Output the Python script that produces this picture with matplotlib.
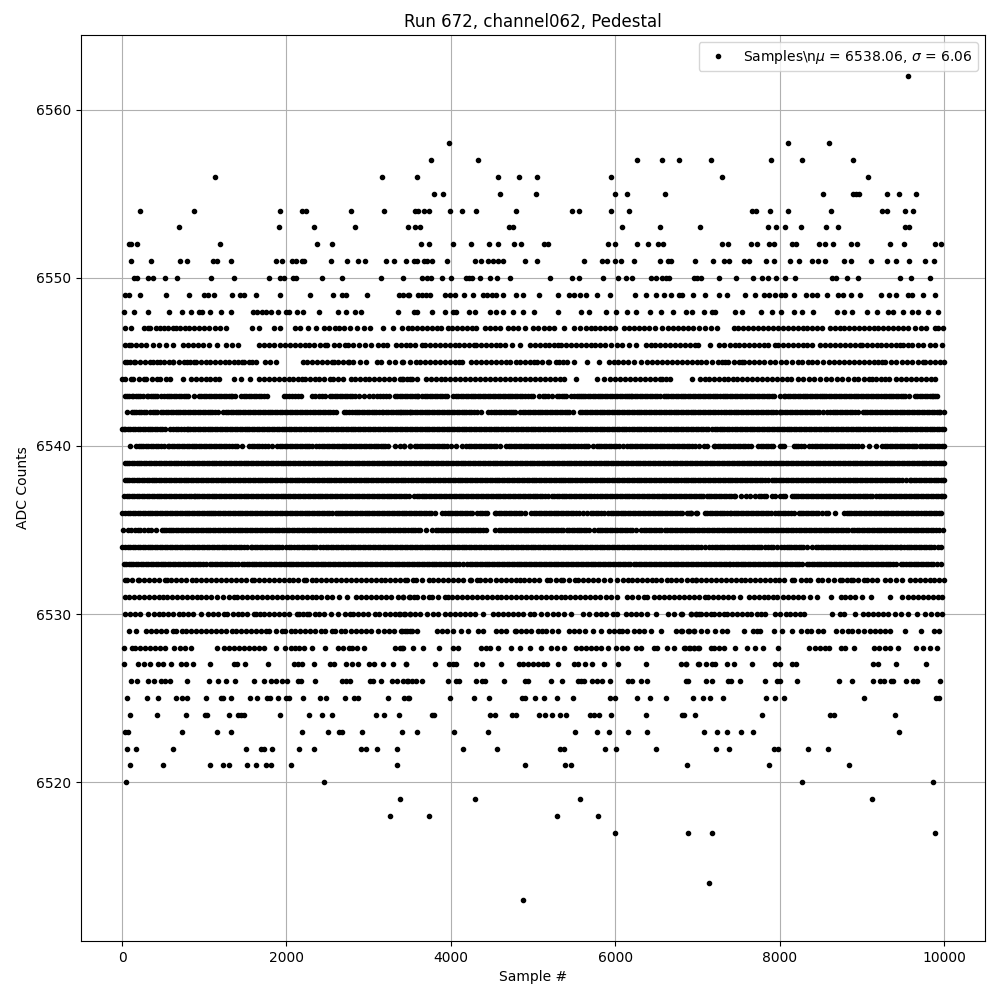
import matplotlib
matplotlib.use("Agg")
import matplotlib.pyplot as plt

# Sample numbers per ADC level. Overlapping dots in the
# dense rows cannot be told apart, so those rows are read at about half a dot width.
adc_6562 = [9564]
adc_6558 = [3980, 8101, 8598]
adc_6557 = [3762, 4331, 6271, 6574, 6780, 7168, 7895, 8271, 8889]
adc_6556 = [1132, 3168, 3592, 4574, 4828, 5046, 5955, 7301, 9071]
adc_6555 = [3798, 3907, 4598, 5034, 5992, 6149, 6610, 8525, 8889, 8925, 8962, 9313, 9459, 9665]
adc_6554 = [223, 877, 1919, 2186, 2234, 2780, 3192, 3564, 3604, 3673, 3738, 3992, 4137, 4307, 4792, 5471, 5555, 5955, 6174, 7665, 7713, 7887, 8101, 8622, 9252, 9313, 9531, 9628]
adc_6553 = [695, 1907, 2331, 2840, 3483, 3564, 3628, 4707, 4756, 6077, 6549, 7035, 7859, 7956, 8065, 8259, 8570, 8707, 9531, 9580]
adc_6552 = [89, 109, 178, 1192, 2368, 2550, 3641, 3738, 4028, 4247, 4465, 4574, 4768, 4853, 5131, 5180, 5907, 5992, 6271, 6404, 6525, 6586, 7301, 7374, 7653, 7725, 7875, 7931, 8150, 8198, 8477, 8554, 8647, 8865, 8937, 9350, 9519, 9895, 9968]
adc_6551 = [113, 356, 707, 792, 1107, 1152, 1325, 1871, 1944, 2065, 2113, 2186, 2210, 2537, 2731, 2865, 2950, 3216, 3313, 3459, 3556, 3584, 3673, 3713, 3774, 3956, 4295, 4368, 4453, 4513, 4574, 4634, 4905, 5046, 5616, 5834, 5895, 5992, 6065, 6234, 6549, 6646, 6683, 6974, 7192, 7325, 7386, 7564, 7624, 7834, 7935, 8129, 8234, 8392, 8465, 8550, 8780, 8865, 9107, 9313, 9422, 9580, 9774, 9883]
adc_6550 = [150, 182, 320, 380, 526, 671, 1083, 1362, 1786, 1919, 1968, 2077, 2113, 2428, 2671, 3156, 3422, 3645, 3713, 3758, 3887, 4004, 4182, 4222, 4262, 4352, 4473, 4562, 4719, 5204, 5471, 5555, 5855, 6040, 6137, 6210, 6440, 6501, 6574, 6620, 6660, 6957, 6998, 7039, 7265, 7471, 7677, 7786, 7859, 7956, 8069, 8190, 8634, 8683, 8816, 8950, 9471, 9604, 9835]
adc_6549 = [37, 89, 223, 538, 816, 998, 1047, 1119, 1338, 1435, 1483, 1628, 1919, 2283, 2562, 2671, 2719, 2986, 3374, 3422, 3483, 3495, 3604, 3650, 3700, 3746, 3927, 3985, 4049, 4162, 4271, 4392, 4440, 4500, 4555, 4630, 4796, 4877, 5067, 5301, 5442, 5503, 5568, 5640, 5774, 5931, 6246, 6380, 6501, 6598, 6683, 6775, 6816, 6949, 7099, 7269, 7362, 7576, 7701, 7814, 7870, 7940, 8020, 8070, 8170, 8319, 8400, 8461, 8574, 8715, 8776, 8865, 8978, 9240, 9337, 9422, 9563, 9616, 9745, 9895]
adc_6548 = [29, 150, 320, 574, 732, 841, 938, 974, 1071, 1204, 1325, 1592, 1641, 1701, 1750, 1810, 1895, 1992, 2030, 2125, 2198, 2392, 2622, 2719, 2828, 2913, 3362, 3552, 3584, 3766, 3935, 4028, 4069, 4218, 4295, 4477, 4554, 4634, 4756, 4877, 5010, 5301, 5584, 5685, 5887, 6008, 6149, 6258, 6420, 6553, 6707, 6856, 6937, 7079, 7180, 7220, 7455, 7544, 7774, 7907, 8020, 8170, 8271, 8412, 8695, 8784, 8877, 9059, 9180, 9321, 9382, 9507, 9616, 9685, 9810, 9927]
adc_6547 = [41, 113, 271, 310, 343, 412, 460, 510, 560, 614, 655, 700, 760, 820, 880, 940, 1000, 1060, 1130, 1190, 1260, 1584, 1665, 1846, 1927, 2109, 2170, 2267, 2356, 2453, 2513, 2594, 2640, 2700, 2776, 2857, 2938, 3020, 3180, 3301, 3402, 3483, 3530, 3590, 3650, 3710, 3770, 3830, 3875, 3960, 4020, 4080, 4140, 4200, 4260, 4310, 4412, 4480, 4533, 4594, 4695, 4756, 4815, 4900, 5000, 5060, 5130, 5200, 5260, 5382, 5500, 5576, 5644, 5700, 5760, 5820, 5880, 5940, 6000, 6109, 6170, 6230, 6290, 6350, 6410, 6490, 6574, 6640, 6700, 6760, 6830, 6890, 6950, 7018, 7090, 7170, 7241, 7443, 7500, 7560, 7620, 7680, 7740, 7800, 7860, 7920, 7980, 8040, 8100, 8160, 8220, 8280, 8340, 8400, 8460, 8513, 8614, 8670, 8730, 8790, 8850, 8910, 8970, 9030, 9090, 9150, 9200, 9260, 9320, 9380, 9440, 9500, 9560, 9650, 9720, 9786, 9887, 9927, 9988]
adc_6546 = [40, 80, 110, 170, 230, 287, 372, 450, 533, 622, 744, 800, 860, 920, 990, 1059, 1156, 1269, 1340, 1414, 1665, 1730, 1790, 1846, 1920, 1980, 2040, 2100, 2160, 2220, 2280, 2340, 2410, 2472, 2493, 2574, 2640, 2715, 2744, 2810, 2880, 2950, 3026, 3119, 3170, 3228, 3333, 3390, 3450, 3503, 3560, 3645, 3685, 3745, 3805, 3865, 3925, 3985, 4045, 4105, 4165, 4225, 4279, 4303, 4365, 4425, 4490, 4554, 4594, 4655, 4748, 4840, 4958, 5020, 5080, 5140, 5200, 5255, 5309, 5341, 5400, 5460, 5520, 5580, 5640, 5700, 5760, 5820, 5880, 5950, 6020, 6089, 6170, 6250, 6372, 6430, 6490, 6550, 6610, 6670, 6730, 6790, 6850, 6910, 6970, 7010, 7156, 7269, 7330, 7400, 7463, 7503, 7565, 7625, 7685, 7745, 7805, 7865, 7948, 7980, 8040, 8100, 8160, 8220, 8280, 8340, 8392, 8493, 8555, 8615, 8675, 8735, 8795, 8855, 8915, 8978, 8998, 9060, 9120, 9180, 9240, 9300, 9360, 9420, 9463, 9503, 9564, 9616, 9680, 9750, 9826, 9887, 9976]
adc_6545 = [30, 60, 100, 142, 158, 215, 280, 344, 372, 420, 461, 513, 565, 614, 622, 690, 756, 788, 830, 877, 897, 955, 1015, 1075, 1135, 1195, 1250, 1301, 1362, 1410, 1463, 1483, 1544, 1584, 1632, 1733, 1800, 1875, 2198, 2255, 2315, 2375, 2435, 2495, 2554, 2574, 2630, 2690, 2743, 2756, 2815, 2890, 2970, 3099, 3147, 3245, 3320, 3402, 3422, 3503, 3572, 3630, 3690, 3750, 3810, 3870, 3930, 3990, 4050, 4100, 4142, 4251, 4310, 4370, 4430, 4490, 4550, 4610, 4675, 4719, 4788, 4836, 4900, 4960, 5018, 5046, 5115, 5188, 5200, 5281, 5313, 5365, 5414, 5495, 5652, 5798, 5919, 5980, 6040, 6100, 6160, 6230, 6311, 6392, 6452, 6510, 6570, 6630, 6690, 6750, 6810, 6870, 6930, 6990, 7050, 7110, 7180, 7253, 7300, 7342, 7374, 7440, 7510, 7544, 7572, 7630, 7690, 7750, 7810, 7880, 7939, 8016, 8080, 8150, 8220, 8279, 8343, 8392, 8450, 8530, 8602, 8663, 8725, 8785, 8845, 8905, 8965, 9025, 9085, 9145, 9200, 9248, 9281, 9362, 9422, 9495, 9555, 9615, 9680, 9745, 9766, 9830, 9890, 9950, 10000]
adc_6544 = [0, 40, 109, 130, 200, 271, 291, 360, 425, 465, 530, 586, 744, 837, 905, 958, 1015, 1075, 1130, 1180, 1362, 1443, 1552, 1665, 1725, 1785, 1845, 1905, 1965, 2025, 2085, 2140, 2190, 2222, 2282, 2342, 2402, 2462, 2525, 2566, 2625, 2685, 2784, 2828, 2890, 2950, 3010, 3067, 3125, 3185, 3245, 3305, 3382, 3422, 3503, 3402, 3470, 3530, 3584, 3697, 3755, 3815, 3875, 3935, 3995, 4055, 4115, 4175, 4235, 4295, 4352, 4420, 4480, 4540, 4600, 4660, 4723, 4784, 4845, 4905, 4965, 5025, 5085, 5145, 5205, 5265, 5325, 5382, 5523, 5774, 5866, 5935, 6000, 6060, 6120, 6180, 6240, 6300, 6360, 6420, 6480, 6545, 6565, 6620, 6662, 6929, 7030, 7099, 7140, 7200, 7260, 7320, 7375, 7430, 7483, 7545, 7605, 7665, 7725, 7785, 7845, 7905, 7965, 8025, 8085, 8141, 8222, 8291, 8360, 8424, 8493, 8560, 8630, 8700, 8764, 8836, 8900, 8960, 9030, 9085, 9131, 9168, 9230, 9285, 9329, 9422, 9480, 9540, 9600, 9660, 9720, 9780, 9840, 9887]
adc_6543 = [35, 60, 117, 138, 195, 250, 303, 320, 380, 430, 473, 513, 574, 630, 690, 750, 808, 869, 938, 995, 1055, 1115, 1175, 1235, 1295, 1342, 1374, 1451, 1510, 1570, 1630, 1690, 1766, 1968, 2030, 2100, 2178, 2311, 2390, 2473, 2533, 2590, 2650, 2710, 2770, 2830, 2877, 2938, 3000, 3058, 3099, 3170, 3252, 3321, 3380, 3440, 3503, 3560, 3584, 3604, 3650, 3685, 3713, 3775, 3835, 3895, 3955, 4028, 4061, 4120, 4180, 4240, 4300, 4360, 4420, 4480, 4540, 4600, 4660, 4720, 4780, 4840, 4900, 4978, 4998, 5079, 5119, 5180, 5232, 5289, 5350, 5402, 5463, 5530, 5590, 5632, 5665, 5725, 5785, 5845, 5905, 5965, 6025, 6085, 6140, 6190, 6210, 6270, 6330, 6390, 6450, 6510, 6594, 6614, 6675, 6735, 6795, 6855, 6915, 6975, 7035, 7095, 7155, 7215, 7275, 7342, 7362, 7425, 7485, 7545, 7605, 7665, 7725, 7785, 7845, 7907, 7928, 8000, 8049, 8069, 8130, 8190, 8250, 8310, 8370, 8430, 8490, 8521, 8541, 8600, 8660, 8720, 8780, 8840, 8900, 8960, 9020, 9080, 9140, 9200, 9265, 9329, 9354, 9415, 9475, 9530, 9572, 9644, 9705, 9765, 9825, 9870, 9919]
adc_6543_more = [90, 165, 222, 350, 405, 545, 600, 660, 720, 780, 965, 1025, 1085, 1145, 1205, 1265, 1320, 1480, 1540, 1600, 1660, 1725, 2000, 2065, 2140, 2350, 2430, 2560, 2620, 2680, 2740, 2800, 3135, 3210, 3350, 3410, 3470, 3530, 3745, 3805, 3865, 3925, 4090, 4150, 4210, 4270, 4330, 4390, 4450, 4510, 4570, 4630, 4690, 4750, 4810, 4870, 4940, 5150, 5320, 5380, 5495, 5560, 5610, 5695, 5755, 5815, 5875, 5935, 5995, 6055, 6115, 6165, 6240, 6300, 6360, 6420, 6480, 6550, 6645, 6705, 6765, 6825, 6885, 6945, 7005, 7065, 7125, 7185, 7245, 7310, 7395, 7455, 7515, 7575, 7635, 7695, 7755, 7815, 7875, 8100, 8160, 8220, 8280, 8340, 8400, 8460, 8570, 8630, 8690, 8750, 8810, 8870, 8930, 8990, 9050, 9110, 9170, 9235, 9300, 9385, 9445, 9500, 9675, 9735, 9795, 9850, 9895]
adc_6542 = [57, 117, 175, 235, 290, 344, 372, 425, 473, 501, 560, 620, 680, 740, 800, 860, 920, 980, 1040, 1100, 1172, 1233, 1290, 1350, 1410, 1470, 1530, 1590, 1650, 1710, 1770, 1830, 1890, 1950, 2010, 2070, 2130, 2190, 2250, 2323, 2352, 2410, 2470, 2530, 2606, 2695, 2760, 2836, 2857, 2915, 2975, 3035, 3095, 3160, 3180, 3240, 3300, 3360, 3420, 3503, 3382, 3443, 3471, 3530, 3590, 3650, 3710, 3770, 3830, 3890, 3950, 4010, 4070, 4130, 4190, 4250, 4323, 4372, 4453, 4493, 4555, 4615, 4675, 4735, 4784, 4844, 4905, 4965, 5025, 5085, 5145, 5205, 5265, 5325, 5385, 5440, 5483, 5572, 5630, 5690, 5750, 5810, 5870, 5930, 5990, 6050, 6110, 6170, 6230, 6290, 6350, 6410, 6470, 6530, 6590, 6650, 6710, 6770, 6830, 6889, 6917, 6975, 7035, 7095, 7155, 7215, 7293, 7321, 7380, 7440, 7500, 7560, 7620, 7680, 7740, 7800, 7860, 7920, 8000, 8008, 8065, 8125, 8185, 8245, 8305, 8365, 8425, 8485, 8574, 8614, 8675, 8735, 8795, 8855, 8917, 8958, 9010, 9070, 9130, 9190, 9250, 9310, 9370, 9430, 9490, 9550, 9610, 9670, 9730, 9790, 9850, 9910, 9955, 9996]
adc_6542_more = [145, 205, 262, 400, 530, 590, 650, 710, 770, 830, 890, 950, 1010, 1070, 1135, 1260, 1320, 1380, 1440, 1500, 1560, 1620, 1680, 1740, 1800, 1860, 1920, 1980, 2040, 2100, 2160, 2220, 2285, 2380, 2440, 2500, 2570, 2730, 2800, 2885, 2945, 3005, 3065, 3125, 3210, 3270, 3330, 3390, 3500, 3560, 3620, 3680, 3740, 3800, 3860, 3920, 3980, 4040, 4100, 4160, 4220, 4285, 4525, 4585, 4645, 4705, 4760, 4875, 4935, 4995, 5055, 5115, 5175, 5235, 5295, 5355, 5415, 5600, 5660, 5720, 5780, 5840, 5900, 5960, 6020, 6080, 6140, 6200, 6260, 6320, 6380, 6440, 6500, 6560, 6620, 6680, 6740, 6800, 6860, 6945, 7005, 7065, 7125, 7185, 7255, 7350, 7410, 7470, 7530, 7590, 7650, 7710, 7770, 7830, 7890, 7960, 8035, 8095, 8155, 8215, 8275, 8335, 8395, 8455, 8530, 8645, 8705, 8765, 8825, 8885, 9040, 9100, 9160, 9220, 9280, 9340, 9400, 9460, 9520, 9580, 9640, 9700, 9760, 9820, 9880, 9935]
adc_6541 = [0, 40, 100, 160, 220, 280, 340, 400, 460, 526, 586, 650, 715, 784, 804, 860, 920, 980, 1040, 1100, 1160, 1220, 1280, 1340, 1400, 1460, 1520, 1580, 1640, 1700, 1760, 1820, 1880, 1940, 2000, 2060, 2120, 2180, 2240, 2300, 2360, 2420, 2480, 2540, 2600, 2660, 2720, 2780, 2840, 2900, 2960, 3020, 3080, 3140, 3200, 3260, 3320, 3380, 3440, 3503, 3560, 3620, 3680, 3740, 3800, 3860, 3920, 3980, 4040, 4100, 4160, 4220, 4280, 4340, 4400, 4460, 4520, 4580, 4640, 4700, 4760, 4820, 4880, 4940, 5000, 5060, 5120, 5180, 5240, 5300, 5360, 5420, 5480, 5540, 5600, 5660, 5720, 5780, 5840, 5900, 5960, 6020, 6080, 6129, 6170, 6230, 6290, 6350, 6410, 6470, 6530, 6590, 6650, 6710, 6770, 6830, 6890, 6950, 7010, 7070, 7130, 7220, 7241, 7300, 7360, 7420, 7463, 7483, 7545, 7605, 7665, 7725, 7785, 7845, 7905, 7965, 8025, 8085, 8145, 8205, 8265, 8325, 8385, 8445, 8505, 8565, 8625, 8685, 8745, 8805, 8865, 8925, 8985, 9045, 9105, 9165, 9225, 9285, 9345, 9405, 9465, 9525, 9585, 9645, 9705, 9765, 9825, 9885, 9945, 10000]
adc_6541_more = [20, 70, 130, 190, 250, 310, 370, 430, 490, 620, 680, 750, 830, 890, 950, 1010, 1070, 1130, 1190, 1250, 1310, 1370, 1430, 1490, 1550, 1610, 1670, 1730, 1790, 1850, 1910, 1970, 2030, 2090, 2150, 2210, 2270, 2330, 2390, 2450, 2510, 2570, 2630, 2690, 2750, 2810, 2870, 2930, 2990, 3050, 3110, 3170, 3230, 3290, 3350, 3410, 3470, 3530, 3590, 3650, 3710, 3770, 3830, 3890, 3950, 4010, 4070, 4130, 4190, 4250, 4310, 4370, 4430, 4490, 4550, 4610, 4670, 4730, 4790, 4850, 4910, 4970, 5030, 5090, 5150, 5210, 5270, 5330, 5390, 5450, 5510, 5570, 5630, 5690, 5750, 5810, 5870, 5930, 5990, 6050, 6105, 6200, 6260, 6320, 6380, 6440, 6500, 6560, 6620, 6680, 6740, 6800, 6860, 6920, 6980, 7040, 7100, 7175, 7270, 7330, 7390, 7515, 7575, 7635, 7695, 7755, 7815, 7875, 7935, 7995, 8055, 8115, 8175, 8235, 8295, 8355, 8415, 8475, 8535, 8595, 8655, 8715, 8775, 8835, 8895, 8955, 9015, 9075, 9135, 9195, 9255, 9315, 9375, 9435, 9495, 9555, 9615, 9675, 9735, 9795, 9855, 9915, 9975]
adc_6540 = [101, 170, 230, 290, 350, 410, 470, 554, 574, 635, 695, 755, 815, 875, 935, 995, 1055, 1115, 1180, 1208, 1270, 1340, 1402, 1459, 1544, 1610, 1670, 1740, 1826, 1887, 1950, 2010, 2070, 2130, 2190, 2250, 2310, 2400, 2432, 2490, 2550, 2610, 2670, 2730, 2790, 2850, 2910, 2970, 3030, 3090, 3150, 3200, 3241, 3320, 3382, 3434, 3503, 3434, 3500, 3564, 3592, 3650, 3710, 3770, 3830, 3890, 3950, 4057, 4137, 4190, 4250, 4310, 4370, 4430, 4490, 4550, 4594, 4675, 4735, 4795, 4855, 4915, 4975, 5035, 5095, 5155, 5215, 5275, 5335, 5395, 5455, 5515, 5584, 5616, 5670, 5725, 5774, 5830, 5890, 5950, 6010, 6097, 6149, 6210, 6270, 6330, 6390, 6450, 6510, 6570, 6630, 6690, 6750, 6810, 6870, 6930, 7018, 7079, 7119, 7200, 7220, 7280, 7340, 7400, 7460, 7520, 7580, 7657, 7737, 7800, 7860, 7920, 8000, 8060, 8170, 8230, 8300, 8364, 8400, 8460, 8520, 8580, 8640, 8700, 8760, 8820, 8880, 8950, 8998, 9083, 9172, 9248, 9310, 9370, 9430, 9490, 9550, 9610, 9664, 9705, 9765, 9825, 9885, 9945, 10000]
adc_6540_more = [200, 260, 320, 380, 440, 510, 605, 665, 725, 785, 845, 905, 965, 1025, 1085, 1145, 1240, 1305, 1370, 1575, 1640, 1705, 1780, 1920, 1980, 2040, 2100, 2160, 2220, 2280, 2355, 2460, 2520, 2580, 2640, 2700, 2760, 2820, 2880, 2940, 3000, 3060, 3120, 3175, 3620, 3680, 3740, 3800, 3860, 3920, 4000, 4220, 4280, 4340, 4400, 4460, 4520, 4705, 4765, 4825, 4885, 4945, 5005, 5065, 5125, 5185, 5245, 5305, 5365, 5425, 5485, 5550, 5640, 5800, 5860, 5920, 5980, 6050, 6180, 6240, 6300, 6360, 6420, 6480, 6540, 6600, 6660, 6720, 6780, 6840, 6900, 6975, 7250, 7310, 7370, 7430, 7490, 7550, 7620, 7770, 7830, 7890, 8030, 8200, 8265, 8430, 8490, 8550, 8610, 8670, 8730, 8790, 8850, 8915, 9280, 9340, 9400, 9460, 9520, 9580, 9640, 9735, 9795, 9855, 9915, 9975]
adc_6539 = [30, 56, 116, 176, 236, 296, 356, 416, 476, 536, 596, 656, 716, 756, 788, 848, 908, 968, 1028, 1088, 1148, 1208, 1268, 1328, 1388, 1448, 1508, 1568, 1628, 1688, 1748, 1808, 1868, 1928, 1988, 2048, 2108, 2168, 2228, 2288, 2348, 2408, 2468, 2528, 2588, 2648, 2708, 2768, 2828, 2888, 2948, 3008, 3068, 3128, 3188, 3248, 3308, 3368, 3428, 3488, 3548, 3608, 3668, 3728, 3788, 3848, 3908, 3968, 4028, 4088, 4148, 4208, 4268, 4328, 4388, 4448, 4508, 4568, 4628, 4688, 4748, 4808, 4868, 4928, 4988, 5048, 5108, 5168, 5228, 5288, 5348, 5408, 5468, 5528, 5588, 5648, 5708, 5768, 5828, 5888, 5948, 6008, 6068, 6128, 6188, 6248, 6308, 6368, 6428, 6488, 6548, 6608, 6668, 6728, 6788, 6848, 6908, 6968, 7028, 7088, 7148, 7208, 7268, 7328, 7388, 7448, 7508, 7568, 7628, 7688, 7748, 7808, 7868, 7928, 7988, 8048, 8108, 8168, 8228, 8288, 8348, 8408, 8468, 8528, 8588, 8648, 8708, 8768, 8828, 8888, 8948, 9008, 9068, 9128, 9188, 9248, 9308, 9368, 9428, 9488, 9548, 9608, 9668, 9728, 9788, 9848, 9908, 9968, 10000]
adc_6539_more = [86, 146, 206, 266, 326, 386, 446, 506, 566, 626, 686, 820, 878, 938, 998, 1058, 1118, 1178, 1238, 1298, 1358, 1418, 1478, 1538, 1598, 1658, 1718, 1778, 1838, 1898, 1958, 2018, 2078, 2138, 2198, 2258, 2318, 2378, 2438, 2498, 2558, 2618, 2678, 2738, 2798, 2858, 2918, 2978, 3038, 3098, 3158, 3218, 3278, 3338, 3398, 3458, 3518, 3578, 3638, 3698, 3758, 3818, 3878, 3938, 3998, 4058, 4118, 4178, 4238, 4298, 4358, 4418, 4478, 4538, 4598, 4658, 4718, 4778, 4838, 4898, 4958, 5018, 5078, 5138, 5198, 5258, 5318, 5378, 5438, 5498, 5558, 5618, 5678, 5738, 5798, 5858, 5918, 5978, 6038, 6098, 6158, 6218, 6278, 6338, 6398, 6458, 6518, 6578, 6638, 6698, 6758, 6818, 6878, 6938, 6998, 7058, 7118, 7178, 7238, 7298, 7358, 7418, 7478, 7538, 7598, 7658, 7718, 7778, 7838, 7898, 7958, 8018, 8078, 8138, 8198, 8258, 8318, 8378, 8438, 8498, 8558, 8618, 8678, 8738, 8798, 8858, 8918, 8978, 9038, 9098, 9158, 9218, 9278, 9338, 9398, 9458, 9518, 9578, 9638, 9698, 9758, 9818, 9878, 9938, 9985]
adc_6538 = [30, 58, 118, 178, 238, 298, 358, 418, 478, 538, 598, 658, 718, 778, 838, 898, 958, 1018, 1078, 1138, 1198, 1258, 1318, 1378, 1438, 1498, 1558, 1618, 1678, 1738, 1798, 1858, 1918, 1978, 2038, 2098, 2158, 2218, 2278, 2338, 2398, 2458, 2518, 2578, 2638, 2698, 2758, 2818, 2878, 2938, 2998, 3058, 3118, 3178, 3238, 3298, 3358, 3418, 3478, 3544, 3572, 3632, 3692, 3752, 3812, 3872, 3932, 3992, 4052, 4112, 4172, 4232, 4292, 4352, 4412, 4472, 4532, 4592, 4652, 4712, 4772, 4832, 4892, 4952, 5012, 5072, 5132, 5192, 5252, 5312, 5362, 5390, 5450, 5510, 5570, 5630, 5690, 5750, 5810, 5870, 5930, 5990, 6050, 6110, 6170, 6230, 6290, 6350, 6410, 6470, 6530, 6590, 6650, 6710, 6770, 6836, 6857, 6917, 6977, 7037, 7097, 7157, 7217, 7277, 7337, 7397, 7457, 7517, 7577, 7637, 7697, 7757, 7817, 7907, 7928, 7988, 8048, 8108, 8168, 8228, 8288, 8348, 8408, 8468, 8528, 8588, 8648, 8708, 8768, 8828, 8888, 8948, 9008, 9068, 9128, 9188, 9248, 9308, 9368, 9428, 9488, 9584, 9604, 9664, 9724, 9784, 9844, 9904, 9964, 10000]
adc_6538_more = [88, 148, 208, 268, 328, 388, 448, 508, 568, 628, 688, 748, 808, 868, 928, 988, 1048, 1108, 1168, 1228, 1288, 1348, 1408, 1468, 1528, 1588, 1648, 1708, 1768, 1828, 1888, 1948, 2008, 2068, 2128, 2188, 2248, 2308, 2368, 2428, 2488, 2548, 2608, 2668, 2728, 2788, 2848, 2908, 2968, 3028, 3088, 3148, 3208, 3268, 3328, 3388, 3448, 3510, 3602, 3662, 3722, 3782, 3842, 3902, 3962, 4022, 4082, 4142, 4202, 4262, 4322, 4382, 4442, 4502, 4562, 4622, 4682, 4742, 4802, 4862, 4922, 4982, 5042, 5102, 5162, 5222, 5282, 5338, 5420, 5480, 5540, 5600, 5660, 5720, 5780, 5840, 5900, 5960, 6020, 6080, 6140, 6200, 6260, 6320, 6380, 6440, 6500, 6560, 6620, 6680, 6740, 6800, 6887, 6947, 7007, 7067, 7127, 7187, 7247, 7307, 7367, 7427, 7487, 7547, 7607, 7667, 7727, 7787, 7860, 7958, 8018, 8078, 8138, 8198, 8258, 8318, 8378, 8438, 8498, 8558, 8618, 8678, 8738, 8798, 8858, 8918, 8978, 9038, 9098, 9158, 9218, 9278, 9338, 9398, 9458, 9535, 9634, 9694, 9754, 9814, 9874, 9934, 9985]
adc_6537 = [29, 89, 149, 209, 269, 329, 389, 449, 509, 569, 629, 689, 749, 809, 869, 917, 938, 998, 1058, 1118, 1178, 1238, 1298, 1358, 1418, 1478, 1538, 1598, 1658, 1718, 1778, 1838, 1898, 1958, 2018, 2078, 2138, 2198, 2258, 2318, 2378, 2438, 2498, 2558, 2618, 2678, 2738, 2798, 2858, 2918, 2978, 3038, 3098, 3158, 3218, 3278, 3338, 3398, 3458, 3552, 3584, 3644, 3704, 3764, 3824, 3884, 3944, 4004, 4064, 4124, 4184, 4244, 4304, 4364, 4424, 4484, 4544, 4604, 4664, 4724, 4784, 4844, 4904, 4964, 5024, 5084, 5144, 5232, 5257, 5317, 5377, 5437, 5497, 5557, 5617, 5677, 5737, 5778, 5814, 5874, 5934, 5994, 6054, 6114, 6174, 6234, 6294, 6354, 6414, 6474, 6534, 6594, 6654, 6714, 6774, 6834, 6894, 6954, 7014, 7074, 7119, 7140, 7200, 7260, 7320, 7380, 7443, 7463, 7530, 7596, 7645, 7700, 7746, 7778, 7840, 7907, 7948, 8010, 8070, 8150, 8170, 8230, 8290, 8350, 8410, 8470, 8530, 8590, 8650, 8710, 8770, 8830, 8890, 8950, 9010, 9070, 9130, 9212, 9240, 9300, 9360, 9420, 9480, 9540, 9600, 9660, 9720, 9780, 9840, 9900, 9960, 9996]
adc_6537_more = [59, 119, 179, 239, 299, 359, 419, 479, 539, 599, 659, 719, 779, 839, 893, 968, 1028, 1088, 1148, 1208, 1268, 1328, 1388, 1448, 1508, 1568, 1628, 1688, 1748, 1808, 1868, 1928, 1988, 2048, 2108, 2168, 2228, 2288, 2348, 2408, 2468, 2528, 2588, 2648, 2708, 2768, 2828, 2888, 2948, 3008, 3068, 3128, 3188, 3248, 3308, 3368, 3428, 3490, 3614, 3674, 3734, 3794, 3854, 3914, 3974, 4034, 4094, 4154, 4214, 4274, 4334, 4394, 4454, 4514, 4574, 4634, 4694, 4754, 4814, 4874, 4934, 4994, 5054, 5114, 5180, 5287, 5347, 5407, 5467, 5527, 5587, 5647, 5707, 5844, 5904, 5964, 6024, 6084, 6144, 6204, 6264, 6324, 6384, 6444, 6504, 6564, 6624, 6684, 6744, 6804, 6864, 6924, 6984, 7044, 7170, 7230, 7290, 7350, 7410, 7810, 8040, 8200, 8260, 8320, 8380, 8440, 8500, 8560, 8620, 8680, 8740, 8800, 8860, 8920, 8980, 9040, 9100, 9170, 9270, 9330, 9390, 9450, 9510, 9570, 9630, 9690, 9750, 9810, 9870, 9930, 9980]
adc_6536 = [0, 40, 100, 160, 222, 251, 310, 370, 430, 490, 550, 610, 670, 730, 790, 850, 910, 970, 1030, 1079, 1103, 1165, 1225, 1285, 1345, 1405, 1465, 1525, 1585, 1645, 1705, 1765, 1825, 1887, 1920, 1980, 2040, 2100, 2160, 2220, 2280, 2340, 2400, 2460, 2520, 2606, 2622, 2680, 2740, 2800, 2860, 2920, 2980, 3040, 3100, 3160, 3220, 3280, 3340, 3400, 3460, 3520, 3580, 3640, 3700, 3760, 3806, 3895, 3960, 4020, 4080, 4140, 4200, 4263, 4319, 4380, 4440, 4533, 4554, 4615, 4675, 4735, 4795, 4857, 4901, 4978, 5040, 5100, 5160, 5220, 5280, 5340, 5400, 5460, 5520, 5612, 5657, 5705, 5765, 5825, 5915, 5947, 6005, 6065, 6125, 6185, 6245, 6305, 6365, 6425, 6485, 6545, 6602, 6634, 6695, 6755, 6815, 6897, 6925, 6978, 6877, 6917, 6998, 7091, 7150, 7210, 7270, 7330, 7394, 7410, 7470, 7530, 7590, 7650, 7710, 7770, 7830, 7890, 7948, 7980, 8040, 8100, 8170, 8231, 8290, 8350, 8410, 8470, 8566, 8594, 8675, 8784, 8845, 8905, 8965, 9025, 9085, 9145, 9205, 9265, 9325, 9385, 9445, 9505, 9565, 9625, 9685, 9725, 9785, 9845, 9905, 9968]
adc_6536_more = [70, 130, 190, 280, 340, 400, 460, 520, 580, 640, 700, 760, 820, 880, 940, 1000, 1055, 1135, 1195, 1255, 1315, 1375, 1435, 1495, 1555, 1615, 1675, 1735, 1795, 1855, 1950, 2010, 2070, 2130, 2190, 2250, 2310, 2370, 2430, 2490, 2560, 2650, 2710, 2770, 2830, 2890, 2950, 3010, 3070, 3130, 3190, 3250, 3310, 3370, 3430, 3490, 3550, 3610, 3670, 3730, 3925, 3990, 4050, 4110, 4170, 4230, 4350, 4410, 4585, 4645, 4705, 4765, 4825, 5010, 5070, 5130, 5190, 5250, 5310, 5370, 5430, 5490, 5560, 5735, 5795, 5870, 5975, 6035, 6095, 6155, 6215, 6275, 6335, 6395, 6455, 6515, 6575, 6665, 6725, 6785, 7120, 7180, 7240, 7300, 7360, 7440, 7500, 7560, 7620, 7680, 7740, 7800, 7860, 8010, 8070, 8135, 8260, 8320, 8380, 8440, 8515, 8815, 8875, 8935, 8995, 9055, 9115, 9175, 9235, 9295, 9355, 9415, 9475, 9535, 9595, 9655, 9755, 9815, 9875, 9935]
adc_6535 = [12, 77, 109, 160, 198, 222, 270, 319, 352, 415, 481, 505, 565, 625, 685, 745, 805, 865, 925, 985, 1045, 1105, 1165, 1225, 1285, 1345, 1405, 1465, 1525, 1585, 1645, 1705, 1765, 1825, 1885, 1945, 2005, 2065, 2125, 2185, 2245, 2305, 2365, 2425, 2485, 2545, 2605, 2665, 2725, 2785, 2845, 2905, 2965, 3025, 3085, 3145, 3205, 3265, 3325, 3385, 3445, 3483, 3511, 3570, 3630, 3697, 3766, 3818, 3880, 3940, 4000, 4060, 4120, 4180, 4240, 4300, 4360, 4424, 4533, 4586, 4645, 4705, 4765, 4825, 4885, 4945, 5005, 5065, 5125, 5185, 5245, 5305, 5365, 5414, 5442, 5500, 5560, 5620, 5680, 5745, 5786, 5845, 5905, 5965, 6025, 6085, 6145, 6205, 6250, 6319, 6380, 6440, 6500, 6560, 6606, 6634, 6695, 6755, 6815, 6875, 6935, 6995, 7055, 7115, 7175, 7235, 7295, 7355, 7415, 7475, 7535, 7595, 7655, 7715, 7775, 7835, 7895, 7955, 8015, 8075, 8135, 8195, 8238, 8263, 8325, 8385, 8445, 8505, 8565, 8625, 8685, 8745, 8805, 8836, 8877, 8940, 9000, 9060, 9120, 9180, 9240, 9300, 9360, 9420, 9480, 9540, 9600, 9660, 9720, 9780, 9840, 9900, 9988]
adc_6535_more = [535, 595, 655, 715, 775, 835, 895, 955, 1015, 1075, 1135, 1195, 1255, 1315, 1375, 1435, 1495, 1555, 1615, 1675, 1735, 1795, 1855, 1915, 1975, 2035, 2095, 2155, 2215, 2275, 2335, 2395, 2455, 2515, 2575, 2635, 2695, 2755, 2815, 2875, 2935, 2995, 3055, 3115, 3175, 3235, 3295, 3355, 3415, 3540, 3600, 3850, 3910, 3970, 4030, 4090, 4150, 4210, 4270, 4330, 4390, 4615, 4675, 4735, 4795, 4855, 4915, 4975, 5035, 5095, 5155, 5215, 5275, 5335, 5470, 5530, 5590, 5650, 5815, 5875, 5935, 5995, 6055, 6115, 6175, 6350, 6410, 6470, 6530, 6665, 6725, 6785, 6845, 6905, 6965, 7025, 7085, 7145, 7205, 7265, 7325, 7385, 7445, 7505, 7565, 7625, 7685, 7745, 7805, 7865, 7925, 7985, 8045, 8105, 8165, 8295, 8355, 8415, 8475, 8535, 8595, 8655, 8715, 8775, 8910, 8970, 9030, 9090, 9150, 9210, 9270, 9330, 9390, 9450, 9510, 9570, 9630, 9690, 9750, 9810, 9870, 9945]
adc_6534 = [0, 40, 100, 160, 220, 280, 340, 400, 460, 520, 580, 640, 700, 760, 820, 880, 940, 1000, 1060, 1120, 1180, 1240, 1300, 1360, 1420, 1480, 1564, 1584, 1645, 1705, 1765, 1825, 1885, 1945, 2036, 2061, 2125, 2185, 2245, 2305, 2365, 2445, 2481, 2540, 2600, 2660, 2720, 2780, 2840, 2900, 2960, 3020, 3080, 3140, 3200, 3260, 3320, 3380, 3440, 3500, 3560, 3620, 3680, 3740, 3800, 3860, 3920, 3980, 4040, 4100, 4160, 4220, 4280, 4340, 4400, 4460, 4520, 4580, 4640, 4700, 4760, 4820, 4880, 4940, 5000, 5060, 5120, 5180, 5240, 5300, 5360, 5420, 5480, 5540, 5600, 5660, 5720, 5780, 5840, 5900, 5960, 6020, 6080, 6140, 6200, 6260, 6320, 6380, 6440, 6500, 6560, 6620, 6680, 6740, 6800, 6860, 6920, 6980, 7040, 7140, 7180, 7240, 7300, 7360, 7420, 7480, 7540, 7600, 7660, 7720, 7780, 7826, 7859, 7920, 8020, 8053, 8115, 8175, 8235, 8291, 8332, 8392, 8440, 8500, 8560, 8620, 8680, 8740, 8800, 8860, 8920, 8980, 9040, 9100, 9160, 9220, 9280, 9340, 9400, 9463, 9483, 9545, 9605, 9665, 9725, 9785, 9845, 9927, 9968]
adc_6534_more = [70, 130, 190, 250, 310, 370, 430, 490, 550, 610, 670, 730, 790, 850, 910, 970, 1030, 1090, 1150, 1210, 1270, 1330, 1390, 1450, 1520, 1615, 1675, 1735, 1795, 1855, 1915, 1990, 2095, 2155, 2215, 2275, 2335, 2405, 2510, 2570, 2630, 2690, 2750, 2810, 2870, 2930, 2990, 3050, 3110, 3170, 3230, 3290, 3350, 3410, 3470, 3530, 3590, 3650, 3710, 3770, 3830, 3890, 3950, 4010, 4070, 4130, 4190, 4250, 4310, 4370, 4430, 4490, 4550, 4610, 4670, 4730, 4790, 4850, 4910, 4970, 5030, 5090, 5150, 5210, 5270, 5330, 5390, 5450, 5510, 5570, 5630, 5690, 5750, 5810, 5870, 5930, 5990, 6050, 6110, 6170, 6230, 6290, 6350, 6410, 6470, 6530, 6590, 6650, 6710, 6770, 6830, 6890, 6950, 7010, 7090, 7210, 7270, 7330, 7390, 7450, 7510, 7570, 7630, 7690, 7750, 7890, 7970, 8085, 8145, 8205, 8265, 8470, 8530, 8590, 8650, 8710, 8770, 8830, 8890, 8950, 9010, 9070, 9130, 9190, 9250, 9310, 9370, 9430, 9515, 9575, 9635, 9695, 9755, 9815, 9885]
adc_6533 = [25, 48, 108, 168, 228, 288, 348, 408, 468, 528, 588, 648, 708, 768, 828, 888, 948, 1018, 1071, 1130, 1190, 1250, 1310, 1370, 1455, 1483, 1545, 1605, 1665, 1725, 1785, 1845, 1905, 1965, 2025, 2085, 2145, 2205, 2265, 2325, 2385, 2445, 2505, 2565, 2625, 2685, 2745, 2805, 2865, 2925, 2985, 3045, 3105, 3165, 3225, 3285, 3345, 3405, 3465, 3525, 3585, 3645, 3705, 3765, 3825, 3885, 3945, 4005, 4065, 4150, 4198, 4260, 4320, 4380, 4440, 4500, 4560, 4620, 4680, 4740, 4800, 4860, 4920, 4980, 5040, 5100, 5160, 5220, 5280, 5340, 5400, 5460, 5520, 5580, 5640, 5700, 5760, 5820, 5880, 5940, 6000, 6060, 6120, 6180, 6230, 6258, 6320, 6380, 6440, 6500, 6560, 6620, 6680, 6740, 6800, 6860, 6920, 6980, 7040, 7107, 7140, 7200, 7260, 7320, 7382, 7402, 7465, 7525, 7585, 7645, 7705, 7765, 7825, 7885, 7945, 8005, 8065, 8125, 8190, 8210, 8270, 8332, 8360, 8420, 8480, 8540, 8600, 8660, 8720, 8780, 8840, 8900, 8960, 9020, 9080, 9140, 9200, 9260, 9320, 9380, 9475, 9507, 9570, 9630, 9690, 9750, 9810, 9870, 9968]
adc_6533_more = [78, 138, 198, 258, 318, 378, 438, 498, 558, 618, 678, 738, 798, 858, 918, 985, 1100, 1160, 1220, 1280, 1340, 1415, 1515, 1575, 1635, 1695, 1755, 1815, 1875, 1935, 1995, 2055, 2115, 2175, 2235, 2295, 2355, 2415, 2475, 2535, 2595, 2655, 2715, 2775, 2835, 2895, 2955, 3015, 3075, 3135, 3195, 3255, 3315, 3375, 3435, 3495, 3555, 3615, 3675, 3735, 3795, 3855, 3915, 3975, 4035, 4100, 4230, 4290, 4350, 4410, 4470, 4530, 4590, 4650, 4710, 4770, 4830, 4890, 4950, 5010, 5070, 5130, 5190, 5250, 5310, 5370, 5430, 5490, 5550, 5610, 5670, 5730, 5790, 5850, 5910, 5970, 6030, 6090, 6150, 6290, 6350, 6410, 6470, 6530, 6590, 6650, 6710, 6770, 6830, 6890, 6950, 7010, 7075, 7170, 7230, 7290, 7350, 7435, 7495, 7555, 7615, 7675, 7735, 7795, 7855, 7915, 7975, 8035, 8095, 8155, 8240, 8390, 8450, 8510, 8570, 8630, 8690, 8750, 8810, 8870, 8930, 8990, 9050, 9110, 9170, 9230, 9290, 9350, 9420, 9540, 9600, 9660, 9720, 9780, 9840, 9920]
adc_6532 = [30, 60, 125, 190, 210, 270, 330, 390, 450, 521, 542, 600, 660, 720, 776, 845, 905, 965, 1025, 1085, 1145, 1205, 1265, 1325, 1385, 1445, 1505, 1584, 1604, 1665, 1725, 1785, 1845, 1905, 1965, 2025, 2085, 2145, 2210, 2243, 2305, 2365, 2425, 2485, 2545, 2605, 2665, 2725, 2785, 2845, 2905, 2965, 3025, 3085, 3145, 3205, 3265, 3325, 3385, 3443, 3471, 3544, 3572, 3650, 3733, 3786, 3845, 3905, 3965, 4025, 4085, 4145, 4230, 4251, 4323, 4352, 4415, 4475, 4554, 4614, 4675, 4735, 4796, 4836, 4895, 4955, 5015, 5075, 5168, 5212, 5275, 5341, 5370, 5440, 5515, 5543, 5605, 5665, 5725, 5785, 5858, 5943, 6028, 6090, 6150, 6210, 6270, 6330, 6390, 6450, 6493, 6562, 6625, 6685, 6745, 6805, 6877, 6929, 6978, 6986, 7045, 7105, 7165, 7225, 7285, 7345, 7405, 7465, 7525, 7585, 7645, 7705, 7765, 7825, 7885, 7945, 7988, 8060, 8150, 8178, 8259, 8319, 8372, 8465, 8521, 8594, 8665, 8731, 8756, 8815, 8869, 8897, 8960, 9026, 9059, 9125, 9188, 9281, 9341, 9415, 9491, 9584, 9645, 9705, 9765, 9825, 9885, 9945, 10000]
adc_6531 = [37, 89, 150, 210, 270, 330, 390, 450, 493, 542, 602, 665, 725, 785, 850, 917, 966, 1020, 1079, 1160, 1225, 1295, 1362, 1402, 1465, 1525, 1585, 1645, 1705, 1765, 1825, 1885, 1945, 2005, 2065, 2125, 2185, 2245, 2305, 2365, 2425, 2490, 2553, 2634, 2735, 2849, 2910, 2970, 3030, 3090, 3150, 3210, 3270, 3362, 3422, 3503, 3422, 3490, 3556, 3584, 3660, 3733, 3766, 3850, 3927, 3968, 4020, 4080, 4140, 4200, 4260, 4320, 4380, 4440, 4500, 4560, 4614, 4675, 4735, 4795, 4855, 4915, 4975, 5035, 5095, 5155, 5215, 5275, 5335, 5395, 5455, 5515, 5575, 5635, 5695, 5755, 5815, 5887, 5955, 6028, 6149, 6210, 6280, 6351, 6392, 6472, 6535, 6595, 6655, 6715, 6775, 6835, 6895, 6955, 7018, 7099, 7131, 7190, 7250, 7310, 7370, 7430, 7523, 7624, 7685, 7745, 7805, 7865, 7915, 7968, 8036, 8100, 8160, 8220, 8280, 8372, 8453, 8622, 8743, 8796, 8860, 8920, 9006, 9107, 9350, 9491, 9564, 9625, 9685, 9745, 9805, 9865, 9925, 9976]
adc_6530 = [37, 100, 160, 220, 311, 392, 450, 501, 554, 620, 695, 736, 800, 860, 958, 1047, 1110, 1170, 1241, 1281, 1345, 1405, 1465, 1525, 1604, 1632, 1673, 1725, 1790, 1850, 1910, 1970, 2030, 2129, 2150, 2200, 2250, 2271, 2352, 2392, 2453, 2541, 2622, 2715, 2768, 2808, 2870, 2930, 2990, 3079, 3131, 3195, 3255, 3315, 3375, 3435, 3503, 3382, 3445, 3505, 3565, 3625, 3705, 3786, 3847, 3935, 3988, 4050, 4110, 4170, 4230, 4291, 4392, 4513, 4575, 4635, 4695, 4755, 4815, 4875, 4958, 5018, 5099, 5170, 5240, 5301, 5380, 5463, 5604, 5685, 5766, 5830, 5890, 5968, 6028, 6129, 6190, 6250, 6310, 6392, 6501, 6646, 6715, 6804, 6917, 6980, 7018, 6808, 6917, 6985, 7045, 7105, 7160, 7200, 7260, 7321, 7362, 7425, 7485, 7545, 7604, 7657, 7720, 7780, 7826, 7948, 8010, 8077, 8129, 8190, 8250, 8299, 8634, 8735, 8788, 8917, 9018, 9079, 9140, 9200, 9260, 9320, 9402, 9475, 9564, 9677, 9766, 9846, 9910, 9976]
adc_6529 = [89, 170, 291, 350, 410, 470, 530, 614, 655, 728, 776, 840, 900, 960, 1020, 1080, 1140, 1200, 1260, 1342, 1382, 1445, 1505, 1565, 1625, 1685, 1746, 1786, 1867, 1948, 1988, 2050, 2110, 2170, 2230, 2291, 2352, 2415, 2475, 2554, 2594, 2660, 2715, 2784, 2845, 2905, 2965, 3025, 3119, 3188, 3250, 3310, 3390, 3443, 3503, 3402, 3465, 3525, 3592, 3826, 3890, 3950, 4028, 4121, 4210, 4331, 4392, 4545, 4610, 4670, 4776, 4796, 4860, 4920, 4980, 5059, 5111, 5160, 5230, 5301, 5434, 5500, 5564, 5632, 5733, 5826, 5927, 5990, 6050, 6089, 6149, 6230, 6290, 6351, 6440, 6554, 6743, 6808, 6889, 6957, 6796, 6897, 6958, 7047, 7119, 7212, 7301, 7362, 7568, 7673, 7720, 7766, 7935, 8028, 8150, 8263, 8332, 8384, 8465, 8533, 8683, 8756, 8836, 8877, 8950, 9030, 9099, 9160, 9220, 9280, 9341, 9523, 9717, 9879, 9935]
adc_6528 = [29, 117, 158, 220, 280, 340, 400, 460, 521, 635, 703, 764, 837, 1160, 1241, 1301, 1362, 1423, 1483, 1544, 1605, 1665, 1725, 1871, 1988, 2050, 2109, 2150, 2218, 2311, 2465, 2622, 2687, 2756, 2796, 2857, 2938, 3321, 3385, 3422, 3402, 3544, 3665, 3859, 4028, 4093, 4372, 4430, 4473, 4574, 4735, 4844, 4958, 5095, 5220, 5289, 5382, 5523, 5590, 5650, 5710, 5770, 5826, 5907, 6008, 6080, 6149, 6258, 6311, 6472, 6513, 6634, 6719, 6844, 6905, 6965, 7018, 6837, 6897, 6958, 7010, 7172, 7200, 7269, 7329, 7463, 7604, 7701, 7798, 7976, 8360, 8432, 8493, 8554, 8602, 8748, 8796, 8901, 9144, 9216, 9289, 9341, 9446, 9665, 9745, 9835, 9919]
adc_6527 = [29, 198, 270, 344, 433, 501, 594, 715, 776, 857, 1071, 1362, 1394, 1495, 1774, 2089, 2140, 2190, 2331, 2533, 2574, 2719, 2796, 2865, 3010, 3071, 3172, 3301, 3459, 3455, 3810, 3980, 4030, 4069, 4307, 4380, 4610, 4828, 4877, 4941, 5006, 5063, 5127, 5168, 5301, 5503, 5543, 5628, 5713, 5858, 6040, 6380, 6796, 6856, 7006, 6857, 7022, 7107, 7180, 7220, 7362, 7447, 7665, 7948, 8000, 8150, 8198, 9135, 9204, 9422, 9786]
adc_6526 = [113, 186, 319, 384, 477, 526, 586, 792, 1059, 1172, 1265, 1374, 1604, 1725, 1810, 1875, 1944, 2008, 2137, 2178, 2344, 2679, 2730, 2776, 3022, 3059, 3156, 3281, 3350, 3422, 3483, 3471, 3523, 3576, 3645, 3968, 4061, 4101, 4307, 4380, 4420, 4646, 4897, 4937, 5220, 5349, 5543, 5590, 5624, 5717, 5774, 5838, 5931, 6157, 6210, 6319, 6392, 6856, 6885, 7107, 7180, 7374, 7414, 7519, 7826, 7968, 8008, 8210, 8719, 8877, 9143, 9228, 9277, 9362, 9382, 9543, 9628, 9677, 9955]
adc_6525 = [65, 307, 441, 659, 732, 788, 1026, 1200, 1229, 1325, 1556, 1641, 1766, 1798, 1895, 1996, 2032, 2198, 2404, 2485, 2715, 2824, 2865, 3241, 3434, 3483, 3495, 3992, 4283, 4465, 4869, 4897, 5022, 5131, 5289, 5483, 5943, 5992, 6270, 6428, 6622, 6949, 7071, 7156, 7313, 7834, 7948, 8053, 9022, 9907, 9935]
adc_6524 = [101, 429, 780, 1010, 1039, 1301, 1414, 1450, 1483, 1919, 2279, 2428, 2554, 3095, 3192, 3374, 3774, 3794, 4473, 4541, 4743, 4796, 5071, 5143, 5228, 5325, 5398, 5689, 5745, 5798, 5955, 6380, 6816, 6836, 6973, 7786, 8610, 8659, 9410]
adc_6523 = [37, 77, 732, 1160, 1325, 2186, 2501, 2634, 2675, 2925, 3410, 3592, 4040, 4453, 5507, 5774, 5919, 6162, 6392, 7083, 7241, 7362, 7531, 7677, 9459]
adc_6522 = [65, 174, 622, 1507, 1685, 1725, 1822, 2150, 2331, 2913, 2962, 3107, 3350, 4150, 4562, 5325, 5374, 5871, 6004, 6501, 7228, 7386, 7927, 7980, 8344, 8586]
adc_6521 = [101, 501, 1071, 1229, 1301, 1519, 1628, 1750, 1810, 2053, 3350, 4901, 5386, 5459, 6877, 7871, 8840]
adc_6520 = [53, 2453, 8271, 9871]
adc_6519 = [3386, 4295, 5568, 9131]
adc_6518 = [3265, 3738, 5289, 5786]
adc_6517 = [5992, 6889, 7180, 9895]
adc_6514 = [7144]
adc_6513 = [4877]

levels = [
    (6562, adc_6562), (6558, adc_6558), (6557, adc_6557), (6556, adc_6556),
    (6555, adc_6555), (6554, adc_6554), (6553, adc_6553), (6552, adc_6552),
    (6551, adc_6551), (6550, adc_6550), (6549, adc_6549), (6548, adc_6548),
    (6547, adc_6547), (6546, adc_6546), (6545, adc_6545), (6544, adc_6544),
    (6543, adc_6543), (6543, adc_6543_more), (6542, adc_6542), (6542, adc_6542_more),
    (6541, adc_6541), (6541, adc_6541_more), (6540, adc_6540), (6540, adc_6540_more),
    (6539, adc_6539), (6539, adc_6539_more), (6538, adc_6538), (6538, adc_6538_more),
    (6537, adc_6537), (6537, adc_6537_more), (6536, adc_6536), (6536, adc_6536_more),
    (6535, adc_6535), (6535, adc_6535_more), (6534, adc_6534), (6534, adc_6534_more),
    (6533, adc_6533), (6533, adc_6533_more), (6532, adc_6532), (6531, adc_6531),
    (6530, adc_6530), (6529, adc_6529), (6528, adc_6528), (6527, adc_6527),
    (6526, adc_6526), (6525, adc_6525), (6524, adc_6524), (6523, adc_6523),
    (6522, adc_6522), (6521, adc_6521), (6520, adc_6520), (6519, adc_6519),
    (6518, adc_6518), (6517, adc_6517), (6514, adc_6514), (6513, adc_6513),
]

xs = []
ys = []
for level, samples in levels:
    xs.extend(samples)
    ys.extend([level] * len(samples))

fig, ax = plt.subplots(figsize=(10, 10), dpi=100)
ax.plot(xs, ys, "k.", label="Samples\\n$\\mu$ = 6538.06, $\\sigma$ = 6.06")
ax.set_title("Run 672, channel062, Pedestal")
ax.set_xlabel("Sample #")
ax.set_ylabel("ADC Counts")
ax.grid(True)
ax.legend(loc="upper right")
fig.subplots_adjust(left=0.081, right=0.985, top=0.965, bottom=0.059)
fig.savefig("out.png", dpi=100)
